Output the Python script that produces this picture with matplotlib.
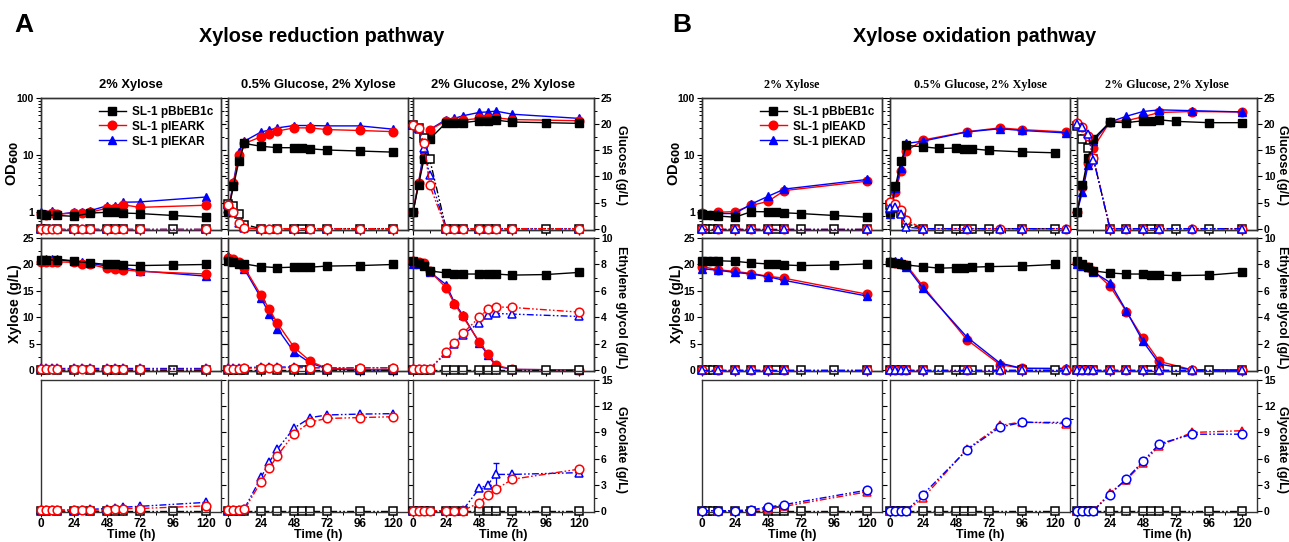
import numpy as np
import matplotlib
matplotlib.use('Agg')
import matplotlib.pyplot as plt
from matplotlib.ticker import MultipleLocator, FixedLocator, NullFormatter, FuncFormatter, LogLocator

plt.rcParams['font.family'] = ['Liberation Sans', 'DejaVu Sans']
plt.rcParams['font.weight'] = 'bold'
plt.rcParams['axes.labelweight'] = 'bold'
plt.rcParams['mathtext.default'] = 'bf'

# ---------------- Panel A: xylose reduction pathway ----------------
# 2% Xylose
A1_t_ctrl = [0, 4, 12, 24, 36, 48, 54, 60, 72, 96, 120]
A1_t_eng = [0, 4, 8, 12, 24, 30, 36, 48, 54, 60, 72, 120]
A1_od_ctrl = [0.95, 0.9, 0.88, 0.85, 0.97, 1.0, 1.0, 0.97, 0.95, 0.88, 0.82]
A1_od_r = [0.95, 0.9, 0.97, 0.93, 0.97, 0.97, 1.0, 1.18, 1.2, 1.35, 1.22, 1.33]
A1_od_b = [1.0, 0.95, 1.05, 0.92, 1.0, 1.0, 1.07, 1.3, 1.28, 1.5, 1.52, 1.85]
A1_glc_ctrl = [0, 0, 0, 0, 0, 0, 0, 0, 0, 0, 0]
A1_glc_r = [0, 0, 0, 0, 0, 0, 0, 0, 0, 0, 0, 0]
A1_glc_b = [0, 0, 0, 0, 0, 0, 0, 0, 0, 0, 0, 0]
A1_xyl_ctrl = [20.8, 20.8, 20.9, 20.6, 20.3, 20.0, 20.0, 19.9, 19.8, 19.9, 20.0]
A1_xyl_r = [20.5, 20.5, 20.5, 20.5, 20.4, 20.1, 20.0, 19.3, 19.2, 19.0, 18.7, 18.2]
A1_xyl_b = [21.0, 21.0, 21.0, 21.0, 20.7, 20.5, 20.2, 19.7, 19.6, 19.4, 18.8, 17.8]
A1_eg_ctrl = [0, 0, 0, 0, 0, 0, 0, 0, 0, 0, 0]
A1_eg_r = [0.1, 0.1, 0.1, 0.1, 0.1, 0.1, 0.1, 0.1, 0.1, 0.1, 0.1, 0.1]
A1_eg_b = [0.15, 0.15, 0.15, 0.15, 0.15, 0.15, 0.15, 0.15, 0.15, 0.15, 0.15, 0.15]
A1_gly_ctrl = [0, 0, 0, 0, 0, 0, 0, 0, 0, 0, 0]
A1_gly_r = [0.1, 0.1, 0.1, 0.1, 0.1, 0.1, 0.1, 0.15, 0.2, 0.3, 0.3, 0.6]
A1_gly_b = [0.1, 0.1, 0.1, 0.1, 0.15, 0.15, 0.2, 0.3, 0.35, 0.45, 0.55, 1.0]

# 0.5% Glucose, 2% Xylose
A2_t_ctrl = [0, 4, 8, 12, 24, 36, 48, 54, 60, 72, 96, 120]
A2_t_eng = [0, 4, 8, 12, 24, 30, 36, 48, 60, 72, 96, 120]
A2_od_ctrl = [1.0, 2.9, 8.0, 16.0, 14.3, 13.5, 13.5, 13.1, 12.9, 12.3, 11.8, 11.3]
A2_od_r = [1.0, 3.2, 9.9, 16.0, 21.0, 23.7, 26.4, 30.0, 30.0, 28.0, 27.0, 25.8]
A2_od_b = [1.0, 3.4, 11.5, 17.6, 25.4, 27.5, 30.0, 33.0, 33.0, 32.5, 32.5, 28.5]
A2_glc_ctrl = [4.7, 4.3, 2.9, 0.8, 0, 0, 0, 0, 0, 0, 0, 0]
A2_glc_r = [4.5, 3.2, 1.0, 0.1, 0, 0, 0, 0, 0, 0, 0, 0]
A2_glc_b = [4.5, 3.4, 1.1, 0.1, 0, 0, 0, 0, 0, 0, 0, 0]
A2_xyl_ctrl = [20.7, 20.4, 20.1, 20.1, 19.6, 19.4, 19.5, 19.5, 19.5, 19.7, 19.8, 20.0]
A2_xyl_r = [21.3, 21.0, 20.5, 19.4, 14.2, 11.6, 8.9, 4.4, 1.7, 0.4, 0.2, 0.2]
A2_xyl_b = [21.6, 21.1, 20.5, 19.1, 13.7, 10.7, 7.9, 3.5, 1.4, 0.3, 0.1, 0.1]
A2_eg_ctrl = [0, 0, 0, 0, 0, 0, 0, 0, 0, 0, 0, 0]
A2_eg_r = [0.1, 0.1, 0.1, 0.15, 0.2, 0.2, 0.2, 0.2, 0.2, 0.2, 0.2, 0.2]
A2_eg_b = [0.15, 0.15, 0.15, 0.2, 0.25, 0.25, 0.25, 0.25, 0.2, 0.2, 0.2, 0.2]
A2_gly_ctrl = [0, 0, 0, 0, 0, 0, 0, 0, 0, 0, 0, 0]
A2_gly_r = [0.1, 0.1, 0.1, 0.2, 3.35, 4.9, 6.35, 8.85, 10.2, 10.6, 10.7, 10.8]
A2_gly_b = [0.1, 0.1, 0.1, 0.3, 3.85, 5.6, 7.1, 9.5, 10.7, 11.0, 11.1, 11.15]

# 2% Glucose, 2% Xylose
A3_t_ctrl = [0, 4, 8, 12, 24, 30, 36, 48, 54, 60, 72, 96, 120]
A3_t_eng = [0, 4, 8, 12, 24, 30, 36, 48, 54, 60, 72, 120]
A3_od_ctrl = [1.0, 3.0, 8.7, 19.0, 37.0, 37.0, 37.0, 40.0, 40.0, 41.0, 38.0, 37.0, 36.0]
A3_od_r = [1.0, 3.3, 9.3, 27.6, 40.0, 40.0, 41.0, 44.0, 44.5, 45.0, 42.0, 40.0]
A3_od_b = [1.0, 3.3, 12.6, 28.0, 42.0, 44.0, 48.8, 56.0, 57.0, 59.0, 52.0, 44.0]
A3_glc_ctrl = [19.8, 19.3, 17.4, 13.4, 0, 0, 0, 0, 0, 0, 0, 0, 0]
A3_glc_r = [19.9, 19.2, 16.3, 8.4, 0, 0, 0, 0, 0, 0, 0, 0]
A3_glc_b = [19.9, 19.0, 15.5, 10.2, 0, 0, 0, 0, 0, 0, 0, 0]
A3_xyl_ctrl = [20.6, 20.2, 19.7, 18.8, 18.4, 18.3, 18.2, 18.2, 18.2, 18.2, 18.0, 18.1, 18.5]
A3_xyl_r = [20.6, 20.4, 20.2, 18.8, 15.6, 12.6, 10.2, 5.4, 3.2, 1.0, 0.2, 0.1]
A3_xyl_b = [20.0, 20.0, 19.9, 18.6, 16.2, 12.8, 10.5, 5.2, 3.0, 0.8, 0.2, 0.1]
A3_eg_ctrl = [0, 0, 0, 0, 0, 0, 0, 0, 0, 0, 0, 0, 0]
A3_eg_r = [0.1, 0.1, 0.1, 0.1, 1.4, 2.1, 2.8, 4.0, 4.6, 4.8, 4.75, 4.4]
A3_eg_b = [0.1, 0.1, 0.1, 0.1, 1.3, 2.0, 2.7, 3.6, 4.2, 4.3, 4.25, 4.07]
A3_gly_ctrl = [0, 0, 0, 0, 0, 0, 0, 0, 0, 0, 0, 0, 0]
A3_gly_r = [0.05, 0.05, 0.05, 0.05, 0.05, 0.05, 0.05, 0.96, 1.9, 2.5, 3.65, 4.8]
A3_gly_b = [0.05, 0.05, 0.05, 0.05, 0.05, 0.05, 0.1, 2.6, 3.0, 4.2, 4.2, 4.4]
A3_gly_b_err = [0, 0, 0, 0, 0, 0, 0, 0, 0, 1.3, 0, 0]

# ---------------- Panel B: xylose oxidation pathway ----------------
B1_t_ctrl = [0, 4, 8, 12, 24, 36, 48, 54, 60, 72, 96, 120]
B1_t_eng = [0, 12, 24, 36, 48, 60, 120]
B1_od_ctrl = [0.92, 0.9, 0.88, 0.86, 0.82, 1.03, 1.02, 1.02, 0.98, 0.95, 0.88, 0.82]
B1_od_r = [0.98, 1.0, 1.03, 1.32, 1.55, 2.4, 3.5]
B1_od_b = [0.92, 0.95, 0.95, 1.4, 1.9, 2.55, 3.75]
B1_glc_ctrl = [0, 0, 0, 0, 0, 0, 0, 0, 0, 0, 0, 0]
B1_glc_r = [0, 0, 0, 0, 0, 0, 0]
B1_glc_b = [0, 0, 0, 0, 0, 0, 0]
B1_xyl_ctrl = [20.7, 20.7, 20.7, 20.7, 20.6, 20.3, 20.1, 20.0, 19.9, 19.8, 19.9, 20.1]
B1_xyl_r = [19.6, 19.0, 18.7, 18.3, 17.8, 17.4, 14.4]
B1_xyl_b = [19.2, 18.9, 18.5, 18.2, 17.7, 17.0, 14.05]
B1_eg_ctrl = [0, 0, 0, 0, 0, 0, 0, 0, 0, 0, 0, 0]
B1_eg_r = [0.05, 0.05, 0.05, 0.05, 0.05, 0.05, 0.05]
B1_eg_b = [0.05, 0.05, 0.05, 0.05, 0.05, 0.05, 0.05]
B1_gly_ctrl = [0, 0, 0, 0, 0, 0, 0, 0, 0, 0, 0, 0]
B1_gly_r = [0.05, 0.05, 0.05, 0.1, 0.2, 0.55, 2.2]
B1_gly_b = [0.05, 0.05, 0.05, 0.15, 0.45, 0.75, 2.4]

B2_t_ctrl = [0, 4, 8, 12, 24, 36, 48, 54, 60, 72, 96, 120]
B2_t_eng = [0, 4, 8, 12, 24, 56, 80, 96, 128]
B2_od_ctrl = [1.0, 2.9, 7.8, 14.8, 14.0, 13.1, 13.3, 12.9, 12.9, 12.1, 11.4, 11.0]
B2_od_r = [1.0, 2.3, 5.2, 11.8, 18.4, 25.7, 30.0, 28.0, 25.5]
B2_od_b = [0.95, 2.65, 6.0, 16.0, 17.6, 25.5, 29.0, 27.0, 24.5]
B2_glc_ctrl = [4.5, 4.0, 3.0, 1.0, 0, 0, 0, 0, 0, 0, 0, 0]
B2_glc_r = [5.2, 4.7, 3.5, 1.6, 0, 0, 0, 0, 0]
B2_glc_b = [3.9, 4.2, 2.9, 0.3, 0, 0, 0, 0, 0]
B2_xyl_ctrl = [20.5, 20.2, 20.0, 19.9, 19.6, 19.3, 19.4, 19.4, 19.5, 19.6, 19.7, 20.0]
B2_xyl_r = [20.5, 20.2, 20.0, 19.9, 15.9, 5.8, 1.1, 0.4, 0.3]
B2_xyl_b = [20.7, 20.6, 20.6, 19.6, 15.5, 6.3, 1.4, 0.4, 0.4]
B2_eg_ctrl = [0, 0, 0, 0, 0, 0, 0, 0, 0, 0, 0, 0]
B2_eg_r = [0.05, 0.05, 0.05, 0.05, 0.05, 0.05, 0.05, 0.05, 0.05]
B2_eg_b = [0.05, 0.05, 0.05, 0.05, 0.05, 0.05, 0.05, 0.05, 0.05]
B2_gly_ctrl = [0, 0, 0, 0, 0, 0, 0, 0, 0, 0, 0, 0]
B2_gly_r = [0.05, 0.05, 0.05, 0.05, 1.5, 7.1, 9.8, 10.2, 10.0]
B2_gly_b = [0.05, 0.05, 0.05, 0.05, 1.9, 7.0, 9.6, 10.15, 10.15]

B3_t_ctrl = [0, 4, 8, 12, 24, 36, 48, 54, 60, 72, 96, 120]
B3_t_eng = [0, 4, 8, 12, 24, 36, 48, 60, 84, 120]
B3_od_ctrl = [1.0, 3.0, 9.0, 19.4, 38.0, 37.0, 40.0, 39.0, 41.5, 39.0, 37.0, 37.0]
B3_od_r = [1.0, 2.8, 7.3, 13.5, 38.7, 40.0, 47.0, 55.8, 58.0, 57.0]
B3_od_b = [1.0, 2.3, 6.6, 17.6, 38.0, 48.0, 58.0, 62.0, 60.0, 57.0]
B3_glc_ctrl = [19.7, 17.2, 15.5, 13.4, 0, 0, 0, 0, 0, 0, 0, 0]
B3_glc_r = [20.3, 19.4, 17.7, 13.5, 0, 0, 0, 0, 0, 0]
B3_glc_b = [20.0, 19.5, 18.2, 13.2, 0, 0, 0, 0, 0, 0]
B3_xyl_ctrl = [20.7, 20.1, 19.6, 18.8, 18.4, 18.2, 18.2, 18.0, 18.0, 17.9, 18.0, 18.5]
B3_xyl_r = [20.2, 19.9, 19.5, 18.8, 15.9, 11.1, 6.1, 1.7, 0.1, 0.1]
B3_xyl_b = [20.1, 19.8, 19.5, 18.6, 16.6, 11.2, 5.5, 1.2, 0.1, 0.05]
B3_eg_ctrl = [0, 0, 0, 0, 0, 0, 0, 0, 0, 0, 0, 0]
B3_eg_r = [0.05, 0.05, 0.05, 0.05, 0.05, 0.05, 0.05, 0.05, 0.05, 0.05]
B3_eg_b = [0.05, 0.05, 0.05, 0.05, 0.05, 0.05, 0.05, 0.05, 0.05, 0.05]
B3_gly_ctrl = [0, 0, 0, 0, 0, 0, 0, 0, 0, 0, 0, 0]
B3_gly_r = [0.05, 0.05, 0.05, 0.05, 2.1, 3.6, 5.5, 7.5, 9.0, 9.2]
B3_gly_b = [0.05, 0.05, 0.05, 0.05, 1.9, 3.7, 5.7, 7.7, 8.8, 8.8]

A_titles = ['2% Xylose', '0.5% Glucose, 2% Xylose', '2% Glucose, 2% Xylose']
B_titles = ['2% Xylose', '0.5% Glucose, 2% Xylose', '2% Glucose, 2% Xylose']
A_labels = ['SL-1 pBbEB1c', 'SL-1 pIEARK', 'SL-1 pIEKAR']
B_labels = ['SL-1 pBbEB1c', 'SL-1 pIEAKD', 'SL-1 pIEKAD']

W, H = 1289, 542
fig = plt.figure(figsize=(W / 100, H / 100), dpi=100)

RED, BLUE, BLACK = '#ff0000', '#0000ff', '#000000'
DASH = (0, (5, 1.6, 1.2, 1.6, 1.2, 1.6))
MS = {'s': 5.6, 'o': 6.2, '^': 6.0}


def box(x0, x1, y0, y1):
    return [x0 / W, 1 - y1 / H, (x1 - x0) / W, (y1 - y0) / H]


def ftext(x, y, s, **kw):
    fig.text(x / W, 1 - y / H, s, ha='center', va='center', **kw)


def filled(ax, t, y, c, m, z):
    return ax.plot(t, y, color=c, marker=m, ms=MS[m], mfc=c, mec=c, lw=1.0,
                   clip_on=False, zorder=z)[0]


def opened(ax, t, y, c, m, z, err=None):
    if err is not None:
        ax.errorbar(t, y, yerr=err, fmt='none', ecolor=c, elinewidth=0.9, capsize=2,
                    clip_on=False, zorder=z)
    ax.plot(t, y, color=c, marker=m, ms=MS[m], mfc='white', mec=c, mew=1.1, lw=1.0,
            ls=DASH, clip_on=False, zorder=z)


def style(ax):
    ax.tick_params(axis='both', which='major', direction='out', length=3.5, width=0.8,
                   pad=1.5)
    ax.tick_params(axis='y', labelsize=7.5)
    ax.tick_params(axis='x', labelsize=8.5, pad=1)
    ax.tick_params(axis='both', which='minor', direction='out', length=2, width=0.7)
    for s in ax.spines.values():
        s.set_linewidth(1.0)
        s.set_color('#333333')


def xaxis(ax, bottom):
    ax.set_xlim(0, 131)
    ax.xaxis.set_major_locator(FixedLocator([0, 24, 48, 72, 96, 120]))
    ax.xaxis.set_minor_locator(FixedLocator([12, 36, 60, 84, 108, 132]))
    ax.tick_params(axis='x', labelbottom=bottom)


def draw_panel(cols, data, titles, labels, title_kw, red_first, gly_marks):
    # data: per column (t_ctrl, t_eng, od, glc, xyl, eg, gly, gly_err)
    for ci, ((x0, x1), d) in enumerate(zip(cols, data)):
        t_c, t_e, od, glc, xyl, eg, gly, gerr = d
        first, last = ci == 0, ci == 2
        order = [(1, RED, 'o'), (2, BLUE, '^')]
        if not red_first:
            order = order[::-1]

        # top: OD (log) + glucose
        ax = fig.add_axes(box(x0, x1, 98, 230))
        ax.set_yscale('log')
        ax.set_ylim(0.49, 100)
        ax.yaxis.set_major_locator(FixedLocator([1, 10, 100]))
        ax.yaxis.set_major_formatter(FuncFormatter(lambda v, _: f'{v:g}'))
        ax.yaxis.set_minor_locator(LogLocator(base=10, subs=np.arange(2, 10)))
        ax.yaxis.set_minor_formatter(NullFormatter())
        xaxis(ax, False)
        style(ax)
        ax.tick_params(axis='y', labelleft=first)
        ax2 = ax.twinx()
        ax2.set_ylim(-0.25, 25)
        ax2.yaxis.set_major_locator(MultipleLocator(5))
        ax2.yaxis.set_minor_locator(MultipleLocator(2.5))
        style(ax2)
        ax2.tick_params(axis='y', labelright=last)
        hs = {}
        hs[0] = filled(ax, t_c, od[0], BLACK, 's', 4)
        opened(ax2, t_c, glc[0], BLACK, 's', 2)
        for k, (i, c, m) in enumerate(order):
            hs[i] = filled(ax, t_e, od[i], c, m, 3 + k * 0.1)
            opened(ax2, t_e, glc[i], c, m, 3 + k * 0.1)
        if first:
            ax2.legend([hs[0], hs[1], hs[2]], labels, loc='upper right', frameon=False,
                       handlelength=2.3, labelspacing=0.25,
                       borderaxespad=0.25, handletextpad=0.5,
                       prop={'weight': 'bold', 'size': 8.5})
        ftext((x0 + x1) / 2, 85, titles[ci], fontweight='bold', **title_kw)

        # middle: xylose + ethylene glycol
        bx = fig.add_axes(box(x0, x1, 238, 371))
        bx.set_ylim(-0.1, 25)
        bx.yaxis.set_major_locator(MultipleLocator(5))
        bx.yaxis.set_minor_locator(MultipleLocator(2.5))
        xaxis(bx, False)
        style(bx)
        bx.tick_params(axis='y', labelleft=first)
        bx2 = bx.twinx()
        bx2.set_ylim(-0.05, 10)
        bx2.yaxis.set_major_locator(MultipleLocator(2))
        bx2.yaxis.set_minor_locator(MultipleLocator(1))
        style(bx2)
        bx2.tick_params(axis='y', labelright=last)
        filled(bx, t_c, xyl[0], BLACK, 's', 4)
        opened(bx2, t_c, eg[0], BLACK, 's', 2)
        for k, (i, c, m) in enumerate(order):
            filled(bx, t_e, xyl[i], c, m, 3 + k * 0.1)
            opened(bx2, t_e, eg[i], c, m, 3 + k * 0.1)

        # bottom: glycolate
        cx = fig.add_axes(box(x0, x1, 380, 512))
        cx.set_ylim(-0.1, 15)
        cx.yaxis.tick_right()
        cx.yaxis.set_major_locator(MultipleLocator(3))
        cx.yaxis.set_minor_locator(MultipleLocator(1.5))
        xaxis(cx, True)
        style(cx)
        cx.tick_params(axis='y', labelright=last)
        opened(cx, t_c, gly[0], BLACK, 's', 2)
        for k, (i, c, m) in enumerate(order):
            opened(cx, t_e, gly[i], c, gly_marks[i], 3 + k * 0.1,
                   err=gerr[i] if gerr is not None else None)
        ftext((x0 + x1) / 2, 535, 'Time (h)', fontsize=9, fontweight='bold')


A_cols = [(41, 221), (228, 408), (413, 594)]
B_cols = [(702, 882), (890, 1070), (1077, 1257)]

A_data = [
    (A1_t_ctrl, A1_t_eng, (A1_od_ctrl, A1_od_r, A1_od_b), (A1_glc_ctrl, A1_glc_r, A1_glc_b),
     (A1_xyl_ctrl, A1_xyl_r, A1_xyl_b), (A1_eg_ctrl, A1_eg_r, A1_eg_b),
     (A1_gly_ctrl, A1_gly_r, A1_gly_b), None),
    (A2_t_ctrl, A2_t_eng, (A2_od_ctrl, A2_od_r, A2_od_b), (A2_glc_ctrl, A2_glc_r, A2_glc_b),
     (A2_xyl_ctrl, A2_xyl_r, A2_xyl_b), (A2_eg_ctrl, A2_eg_r, A2_eg_b),
     (A2_gly_ctrl, A2_gly_r, A2_gly_b), None),
    (A3_t_ctrl, A3_t_eng, (A3_od_ctrl, A3_od_r, A3_od_b), (A3_glc_ctrl, A3_glc_r, A3_glc_b),
     (A3_xyl_ctrl, A3_xyl_r, A3_xyl_b), (A3_eg_ctrl, A3_eg_r, A3_eg_b),
     (A3_gly_ctrl, A3_gly_r, A3_gly_b), (None, None, A3_gly_b_err)),
]
B_data = [
    (B1_t_ctrl, B1_t_eng, (B1_od_ctrl, B1_od_r, B1_od_b), (B1_glc_ctrl, B1_glc_r, B1_glc_b),
     (B1_xyl_ctrl, B1_xyl_r, B1_xyl_b), (B1_eg_ctrl, B1_eg_r, B1_eg_b),
     (B1_gly_ctrl, B1_gly_r, B1_gly_b), None),
    (B2_t_ctrl, B2_t_eng, (B2_od_ctrl, B2_od_r, B2_od_b), (B2_glc_ctrl, B2_glc_r, B2_glc_b),
     (B2_xyl_ctrl, B2_xyl_r, B2_xyl_b), (B2_eg_ctrl, B2_eg_r, B2_eg_b),
     (B2_gly_ctrl, B2_gly_r, B2_gly_b), None),
    (B3_t_ctrl, B3_t_eng, (B3_od_ctrl, B3_od_r, B3_od_b), (B3_glc_ctrl, B3_glc_r, B3_glc_b),
     (B3_xyl_ctrl, B3_xyl_r, B3_xyl_b), (B3_eg_ctrl, B3_eg_r, B3_eg_b),
     (B3_gly_ctrl, B3_gly_r, B3_gly_b), None),
]

draw_panel(A_cols, A_data, A_titles, A_labels, {'fontsize': 9.3}, False, {1: 'o', 2: '^'})
draw_panel(B_cols, B_data, B_titles, B_labels,
           {'fontsize': 8.7, 'family': ['Liberation Serif', 'DejaVu Serif']},
           True, {1: '^', 2: 'o'})

# panel letters, titles and outer axis labels
ftext(24, 25, 'A', fontsize=19, fontweight='bold')
ftext(322, 36, 'Xylose reduction pathway', fontsize=14.3, fontweight='bold')
ftext(682, 25, 'B', fontsize=19, fontweight='bold')
ftext(975, 36, 'Xylose oxidation pathway', fontsize=14.3, fontweight='bold')

for lx, rx in [(13, 621), (675, 1282)]:
    ftext(lx, 164, 'OD$_{600}$', fontsize=10.5, fontweight='bold', rotation=90)
    ftext(lx + 2, 304, 'Xylose (g/L)', fontsize=10, fontweight='bold', rotation=90)
    ftext(rx, 165, 'Glucose (g/L)', fontsize=9, fontweight='bold', rotation=270)
    ftext(rx, 307, 'Ethylene glycol (g/L)', fontsize=9, fontweight='bold', rotation=270)
    ftext(rx, 450, 'Glycolate (g/L)', fontsize=9, fontweight='bold', rotation=270)

fig.savefig('out.png', dpi=100)
